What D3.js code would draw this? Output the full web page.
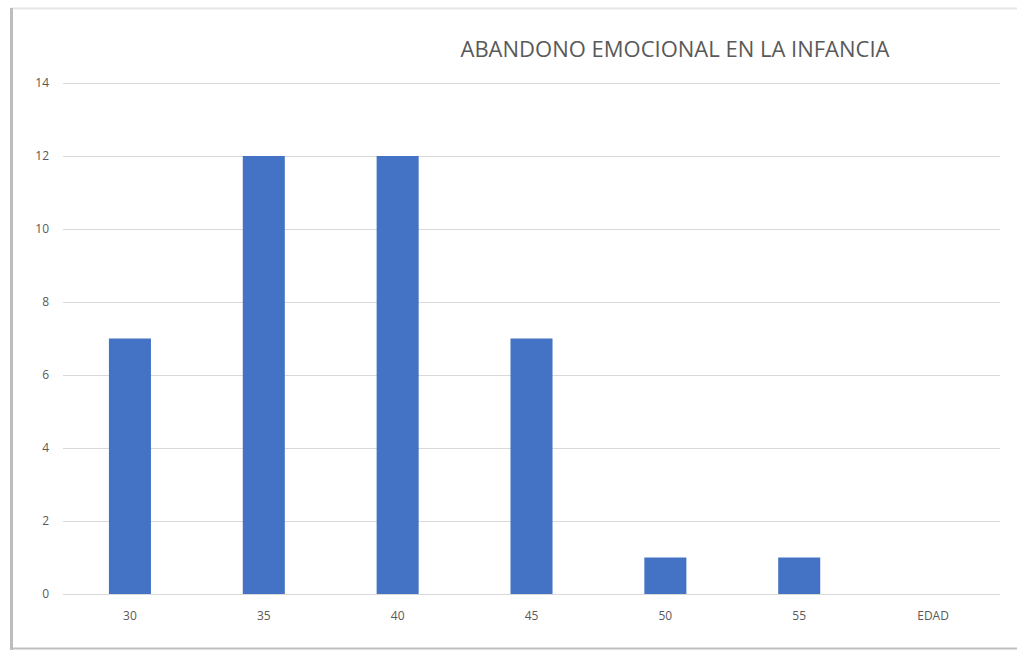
<!DOCTYPE html>
<html>
<head>
<meta charset="utf-8">
<style>
  html, body { margin: 0; padding: 0; background: #fff; }
  svg { display: block; }
  .tick text { fill: #595959; font-family: "Open Sans", sans-serif; font-size: 12px; }
</style>
</head>
<body>
<svg width="1017" height="650"></svg>
<script src="https://cdn.jsdelivr.net/npm/d3@7/dist/d3.min.js"></script>
<script>
var categories = ["30", "35", "40", "45", "50", "55", "EDAD"];
var values = [7, 12, 12, 7, 1, 1, 0];
var yTicks = [0, 2, 4, 6, 8, 10, 12, 14];

var svg = d3.select("svg");

// marco de la imagen
svg.append("line").attr("x1", 11).attr("x2", 1017).attr("y1", 8.5).attr("y2", 8.5)
    .attr("stroke", "#e6e6e6").attr("stroke-width", 2);
svg.append("line").attr("x1", 11).attr("x2", 1017).attr("y1", 648.5).attr("y2", 648.5)
    .attr("stroke", "#bfbfbf").attr("stroke-width", 2);
svg.append("line").attr("x1", 11.5).attr("x2", 11.5).attr("y1", 8).attr("y2", 650)
    .attr("stroke", "#bdbdbd").attr("stroke-width", 3);

var x = d3.scaleBand().domain(categories).range([63, 1000]).paddingInner(0.686).paddingOuter(0.343);
var y = d3.scaleLinear().domain([0, 14]).range([594, 83]);

// rejilla
svg.append("g")
  .selectAll("line")
  .data(yTicks)
  .enter().append("line")
    .attr("x1", 63).attr("x2", 1000)
    .attr("y1", function(d) { return Math.round(y(d)) + 0.5; })
    .attr("y2", function(d) { return Math.round(y(d)) + 0.5; })
    .attr("stroke", "#d9d9d9").attr("stroke-width", 1);

var yAxis = svg.append("g")
    .attr("transform", "translate(49,0)")
    .call(d3.axisLeft(y).tickValues(yTicks).tickSize(0).tickPadding(0));
yAxis.select(".domain").remove();

var xAxis = svg.append("g")
    .attr("transform", "translate(0,611)")
    .call(d3.axisBottom(x).tickSize(0).tickPadding(0));
xAxis.select(".domain").remove();
xAxis.selectAll("text").attr("dy", "0.71em");

svg.append("g")
  .selectAll("rect")
  .data(values)
  .enter().append("rect")
    .attr("x", function(d, i) { return x(categories[i]); })
    .attr("width", x.bandwidth())
    .attr("y", function(d) { return y(d); })
    .attr("height", function(d) { return y(0) - y(d); })
    .attr("fill", "#4472C4");

svg.append("text")
    .attr("x", 675).attr("y", 57)
    .attr("text-anchor", "middle")
    .attr("fill", "#595959")
    .style("font-family", "'Open Sans', sans-serif")
    .style("font-size", "22px")
    .text("ABANDONO EMOCIONAL EN LA INFANCIA");
</script>
</body>
</html>
